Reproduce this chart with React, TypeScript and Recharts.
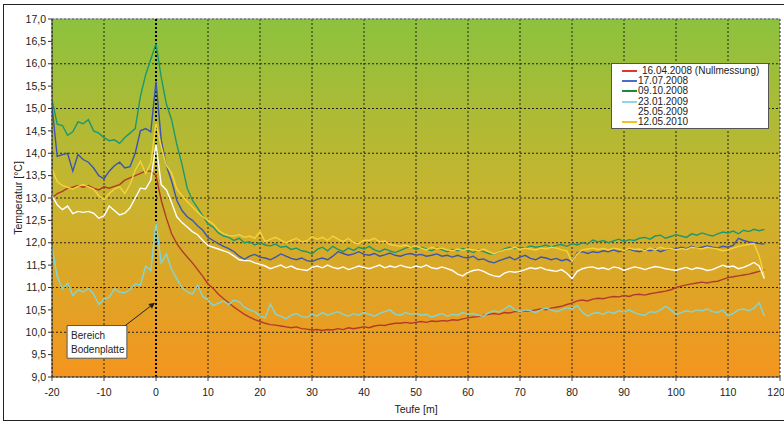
import React from "react";
import {
  LineChart,
  Line,
  XAxis,
  YAxis,
  CartesianGrid,
  ReferenceLine,
  ReferenceArea,
  Label,
} from "recharts";

// Depth positions (m), one per metre from -20 to 117
const depth: number[] = Array.from({ length: 138 }, (_, i) => i - 20);

const xTicks = [-20, -10, 0, 10, 20, 30, 40, 50, 60, 70, 80, 90, 100, 110, 120];
const yTicks = [9, 9.5, 10, 10.5, 11, 11.5, 12, 12.5, 13, 13.5, 14, 14.5, 15, 15.5, 16, 16.5, 17];

// 16.04.2008 (Nullmessung)
const t20080416 = [
  13.0, 13.1, 13.15, 13.22, 13.24, 13.28, 13.24, 13.28, 13.22, 13.18,
  13.25, 13.22, 13.26, 13.3, 13.4, 13.45, 13.5, 13.55, 13.6, 13.6,
  13.5, 12.95, 12.55, 12.2, 11.98, 11.82, 11.68, 11.55, 11.4, 11.25,
  11.08, 10.98, 10.85, 10.75, 10.66, 10.56, 10.48, 10.4, 10.34, 10.28,
  10.24, 10.2, 10.17, 10.16, 10.14, 10.12, 10.1, 10.12, 10.08, 10.07,
  10.05, 10.06, 10.04, 10.06, 10.05, 10.08, 10.06, 10.1, 10.08, 10.1,
  10.12, 10.1, 10.14, 10.16, 10.15, 10.18, 10.2, 10.2, 10.22, 10.2,
  10.22, 10.24, 10.22, 10.25, 10.24, 10.26, 10.25, 10.28, 10.27, 10.3,
  10.32, 10.34, 10.35, 10.38, 10.4, 10.42, 10.4, 10.44, 10.43, 10.46,
  10.46, 10.48, 10.47, 10.5, 10.52, 10.5, 10.54, 10.56, 10.58, 10.62,
  10.65, 10.7, 10.72, 10.7, 10.74, 10.76, 10.75, 10.78, 10.8, 10.79,
  10.82, 10.8, 10.84, 10.85, 10.83, 10.86, 10.88, 10.9, 10.92, 10.95,
  11.0, 11.03, 11.06, 11.08, 11.1, 11.12, 11.1, 11.13, 11.14, 11.18,
  11.22, 11.24, 11.26, 11.28, 11.3, 11.33, 11.36, 11.4,
];

// 17.07.2008
const t20080717 = [
  15.05, 13.93, 13.97, 14.0, 13.6, 13.97, 13.86, 13.8, 13.67, 13.5,
  13.43, 13.6, 13.72, 13.8, 13.67, 13.7, 14.0, 14.5, 14.55, 14.48,
  15.6, 14.3, 13.72, 13.38, 12.95, 12.72, 12.58, 12.5, 12.38, 12.28,
  12.12, 12.05, 11.98, 11.92, 11.87, 11.8, 11.7, 11.63, 11.7, 11.74,
  11.68, 11.66, 11.62, 11.68, 11.75, 11.7, 11.65, 11.62, 11.66, 11.6,
  11.58, 11.63, 11.66, 11.62, 11.7, 11.8, 11.76, 11.72, 11.75, 11.8,
  11.74, 11.72, 11.76, 11.7, 11.73, 11.77, 11.72, 11.7, 11.74, 11.76,
  11.72, 11.74, 11.7, 11.72, 11.75, 11.7, 11.72, 11.68, 11.72, 11.68,
  11.66, 11.7, 11.62, 11.64, 11.58, 11.55, 11.6, 11.64, 11.68, 11.62,
  11.68, 11.72, 11.65, 11.62, 11.68, 11.66, 11.62, 11.65, 11.6, 11.63,
  11.57, 11.78, 11.8, 11.76, 11.8, 11.78, 11.82, 11.8, 11.84, 11.8,
  11.83, 11.86, 11.82, 11.8, 11.84, 11.82, 11.86, 11.8, 11.84, 11.88,
  11.86, 11.9, 11.87, 11.92, 11.88, 11.9, 11.93, 11.9, 11.88, 11.92,
  11.9, 11.94, 12.1, 12.05, 12.02, 12.0, 11.98, 11.97,
];

// 09.10.2008
const t20081009 = [
  15.2, 14.65, 14.62, 14.4, 14.48, 14.7, 14.66, 14.75, 14.5, 14.45,
  14.35, 14.28, 14.3, 14.22, 14.35, 14.45, 14.55, 15.27, 15.75, 16.1,
  16.45, 15.7, 15.1, 14.75, 14.2, 13.75, 13.22, 12.95, 12.78, 12.6,
  12.42, 12.35, 12.22, 12.15, 12.12, 12.05, 12.1, 12.0, 12.02, 11.95,
  12.0, 11.95, 11.93, 11.97, 11.9, 11.92, 11.85, 11.88, 11.82, 11.8,
  11.75, 11.85, 11.9, 11.82, 11.92, 11.85, 11.8, 11.88, 11.83, 11.9,
  11.86, 11.92, 11.84, 11.8, 11.86, 11.82, 11.78, 11.83, 11.88, 11.92,
  11.85, 11.9, 11.86, 11.82, 11.88, 11.84, 11.8, 11.85, 11.82, 11.87,
  11.83, 11.78, 11.84, 11.8, 11.76, 11.74, 11.8, 11.86, 11.9, 11.87,
  11.9, 11.88, 11.93, 11.9, 11.92, 11.95, 11.9, 11.94, 11.96, 11.92,
  11.98, 11.95, 12.0, 11.97, 12.06, 12.02, 12.05, 12.0, 12.04, 12.08,
  12.03, 12.07, 12.05, 12.1, 12.12, 12.08, 12.15, 12.17, 12.1, 12.14,
  12.18, 12.15, 12.12, 12.2, 12.17, 12.22, 12.18, 12.15, 12.2, 12.24,
  12.22, 12.26, 12.2, 12.28, 12.25, 12.3, 12.27, 12.3,
];

// 23.01.2009
const t20090123 = [
  11.9, 11.25, 10.97, 11.1, 10.82, 10.95, 10.9, 10.98, 10.85, 10.62,
  10.74, 10.78, 10.97, 10.9, 10.88, 10.95, 11.08, 11.05, 11.48, 11.38,
  12.45, 11.55, 11.75, 11.4, 11.2, 11.0, 10.9, 10.85, 11.05, 10.8,
  10.72, 10.6, 10.65, 10.7, 10.62, 10.72, 10.68, 10.56, 10.5, 10.46,
  10.36, 10.32, 10.63, 10.4, 10.36, 10.3, 10.38, 10.42, 10.35, 10.33,
  10.4, 10.36, 10.44, 10.38, 10.42, 10.46, 10.4, 10.36, 10.42, 10.38,
  10.44, 10.4, 10.36, 10.42, 10.46, 10.5, 10.4, 10.38, 10.44, 10.4,
  10.42, 10.38, 10.4, 10.34, 10.38, 10.42, 10.36, 10.4, 10.38, 10.44,
  10.4, 10.42, 10.38, 10.36, 10.44, 10.48, 10.45, 10.52, 10.6, 10.5,
  10.46, 10.5, 10.48, 10.44, 10.5, 10.54, 10.5, 10.46, 10.5, 10.55,
  10.52, 10.6, 10.45, 10.36, 10.42, 10.44, 10.4, 10.46, 10.42, 10.48,
  10.45, 10.5, 10.44, 10.4, 10.38, 10.46, 10.44, 10.5, 10.58, 10.5,
  10.4, 10.44, 10.48, 10.45, 10.5, 10.48, 10.52, 10.46, 10.44, 10.5,
  10.36, 10.42, 10.5, 10.52, 10.48, 10.54, 10.66, 10.36,
];

// 25.05.2009
const t20090525 = [
  13.05, 12.85, 12.74, 12.82, 12.65, 12.7, 12.68, 12.7, 12.66, 12.55,
  12.6, 12.82, 12.72, 12.62, 12.66, 12.78, 13.0, 13.22, 13.2, 13.4,
  14.2, 13.3, 13.18, 12.9, 12.58, 12.45, 12.35, 12.25, 12.18, 12.05,
  11.94, 11.9, 11.86, 11.82, 11.78, 11.7, 11.62, 11.6, 11.6, 11.55,
  11.52, 11.48, 11.42, 11.46, 11.5, 11.44, 11.48, 11.42, 11.4, 11.38,
  11.45, 11.48, 11.44, 11.5, 11.45, 11.42, 11.46, 11.4, 11.44, 11.48,
  11.45, 11.42, 11.46, 11.5, 11.44, 11.48, 11.45, 11.5, 11.46, 11.44,
  11.48, 11.45, 11.5, 11.44, 11.42, 11.46, 11.42, 11.38, 11.3, 11.26,
  11.34, 11.38, 11.4, 11.36, 11.3, 11.26, 11.24, 11.32, 11.36, 11.34,
  11.36, 11.4, 11.44, 11.42, 11.45, 11.4, 11.38, 11.36, 11.4, 11.32,
  11.2, 11.36, 11.42, 11.45, 11.46, 11.42, 11.44, 11.4, 11.46, 11.44,
  11.38, 11.42, 11.46, 11.44, 11.4, 11.44, 11.47, 11.45, 11.42, 11.4,
  11.38, 11.42, 11.45, 11.4, 11.44, 11.42, 11.38, 11.4, 11.45, 11.5,
  11.46, 11.48, 11.42, 11.45, 11.5, 11.56, 11.48, 11.2,
];

// 12.05.2010
const t20100512 = [
  13.65, 13.37, 13.28, 13.24, 13.2, 13.26, 13.3, 13.25, 13.2, 13.05,
  12.96, 13.1, 13.2, 13.25, 13.1, 13.3, 13.62, 13.82, 13.55, 13.78,
  14.68, 14.15, 13.72, 13.56, 13.2, 13.05, 12.92, 12.8, 12.68, 12.58,
  12.5, 12.42, 12.28, 12.2, 12.16, 12.15, 12.18, 12.12, 12.15, 12.1,
  12.25, 12.02, 12.08, 12.12, 12.06, 12.0, 12.05, 12.1, 12.02, 12.04,
  12.14, 12.08, 12.12, 12.05, 12.15, 12.08, 12.02, 12.1, 12.0, 11.98,
  12.06, 12.05, 12.1, 12.02, 12.04, 11.96, 11.94, 11.92, 11.95, 11.9,
  11.93, 11.88, 11.84, 11.9, 11.86, 11.88, 11.84, 11.82, 11.86, 11.83,
  11.86, 11.84, 11.82, 11.86, 11.8, 11.75, 11.8, 11.84, 11.86, 11.9,
  11.85, 11.88, 11.86, 11.84, 11.88, 11.86, 11.9, 11.88, 11.84, 11.82,
  11.58, 11.75, 11.84, 11.86, 11.88, 11.85, 11.87, 11.84, 11.88, 11.86,
  11.82, 11.88, 11.85, 11.86, 11.82, 11.88, 11.84, 11.9, 11.86, 11.88,
  11.84, 11.87, 11.85, 11.9, 11.88, 11.86, 11.9, 11.88, 11.86, 11.82,
  11.84, 11.88, 11.92, 11.94, 11.96, 11.98, 11.7, 11.25,
];

const seriesLabels = [
  "16.04.2008 (Nullmessung)",
  "17.07.2008",
  "09.10.2008",
  "23.01.2009",
  "25.05.2009",
  "12.05.2010",
];
const seriesKeys = ["s0", "s1", "s2", "s3", "s4", "s5"];
const seriesValues = [t20080416, t20080717, t20081009, t20090123, t20090525, t20100512];
const lineColors = ["#b23a2c", "#3b55b0", "#1c9870", "#80d6d6", "#ffffff", "#f6d23c"];
const legendColors = ["#e8332b", "#4a6cc8", "#1a8a3c", "#8ad8e0", "#ffffff", "#f5c21c"];

const data = depth.map((d, i) => {
  const row: Record<string, number> = { depth: d };
  seriesKeys.forEach((k, j) => {
    row[k] = seriesValues[j][i];
  });
  return row;
});

const FONT = "'Liberation Sans', Arial, sans-serif";
const NARROW = "'Liberation Sans Narrow', 'Arial Narrow', 'Liberation Sans', Arial, sans-serif";

const fmt = (v: number) => v.toFixed(1).replace(".", ",");

const BoxLabel = (props: any) => {
  const vb = props.viewBox || {};
  return (
    <g>
      <text x={vb.x + 4} y={vb.y + 13} fontSize={10} fontFamily={FONT} fill="#222">
        Bereich
      </text>
      <text x={vb.x + 4} y={vb.y + 27} fontSize={10} fontFamily={FONT} fill="#222">
        Bodenplatte
      </text>
    </g>
  );
};

const ArrowShape = (props: any) => {
  const { x1, y1, x2, y2 } = props;
  const ang = Math.atan2(y2 - y1, x2 - x1);
  const L = 6;
  const W = 3;
  const bx = x2 - L * Math.cos(ang);
  const by = y2 - L * Math.sin(ang);
  const px = -Math.sin(ang) * W;
  const py = Math.cos(ang) * W;
  return (
    <g>
      <line x1={x1} y1={y1} x2={bx} y2={by} stroke="#222" strokeWidth={1} />
      <polygon
        points={`${x2},${y2} ${bx + px},${by + py} ${bx - px},${by - py}`}
        fill="#222"
      />
    </g>
  );
};

const YTitle = (props: any) => {
  const vb = props.viewBox || {};
  const cy = vb.y + vb.height / 2;
  return (
    <text
      x={18}
      y={cy}
      transform={`rotate(-90, 18, ${cy})`}
      textAnchor="middle"
      dominantBaseline="central"
      fontSize={10.5}
      fontFamily={FONT}
      fill="#222"
    >
      Temperatur [°C]
    </text>
  );
};

export default function App() {
  return (
    <div
      style={{
        position: "absolute",
        left: 0,
        top: 0,
        width: 784,
        height: 424,
        background: "#ffffff",
        overflow: "hidden",
      }}
    >
      <div
        style={{
          position: "absolute",
          left: 3,
          top: 4,
          width: 800,
          height: 415,
          border: "1.5px solid #222",
        }}
      />
      <div style={{ position: "absolute", left: 0, top: 0 }}>
        <LineChart
          width={784}
          height={424}
          data={data}
          margin={{ top: 19, right: 4, bottom: 7, left: 12 }}
        >
          <defs>
            <linearGradient id="bgGrad" x1="0" y1="0" x2="0" y2="1">
              <stop offset="0%" stopColor="#8cc23e" />
              <stop offset="50%" stopColor="#c9b42e" />
              <stop offset="100%" stopColor="#f4951e" />
            </linearGradient>
          </defs>
          <CartesianGrid
            fill="url(#bgGrad)"
            fillOpacity={1}
            stroke="#222"
            strokeDasharray="2 2"
          />
          <XAxis
            dataKey="depth"
            type="number"
            domain={[-20, 120]}
            ticks={xTicks}
            allowDataOverflow
            height={40}
            tickSize={4}
            tickMargin={8}
            stroke="#444"
            tick={{ fontSize: 10.5, fontFamily: NARROW, fill: "#222" }}
          >
            <Label
              value="Teufe [m]"
              position="insideBottom"
              offset={4}
              style={{ fontSize: 10.5, fontFamily: NARROW, fill: "#222" }}
            />
          </XAxis>
          <YAxis
            type="number"
            domain={[9, 17]}
            ticks={yTicks}
            allowDataOverflow
            width={40}
            tickSize={4}
            tickMargin={2}
            stroke="#333"
            tickFormatter={fmt}
            tick={{ fontSize: 10.5, fontFamily: FONT, fill: "#222" }}
          >
            <Label content={YTitle} />
          </YAxis>
          <ReferenceLine y={17} stroke="#9a9a9a" strokeWidth={1} />
          <ReferenceLine x={0} stroke="#000" strokeDasharray="2 2" strokeWidth={2} />
          <ReferenceArea
            x1={-17.1}
            x2={-5.6}
            y1={9.42}
            y2={10.15}
            fill="#ffffff"
            fillOpacity={1}
            stroke="#555"
            strokeWidth={1}
            label={(p: any) => <BoxLabel {...p} />}
          />
          <ReferenceLine
            segment={[
              { x: -5.9, y: 10.15 },
              { x: -0.2, y: 10.66 },
            ]}
            shape={(p: any) => <ArrowShape {...p} />}
          />
          {seriesKeys.map((k, j) => (
            <Line
              key={k}
              type="linear"
              dataKey={k}
              stroke={lineColors[j]}
              strokeWidth={1.4}
              dot={false}
              isAnimationActive={false}
            />
          ))}
        </LineChart>
      </div>
      <div
        style={{
          position: "absolute",
          left: 611,
          top: 63,
          width: 158,
          height: 66,
          background: "#ffffff",
          border: "1px solid #555",
          fontFamily: FONT,
          fontSize: 10,
          color: "#222",
          boxSizing: "border-box",
          paddingTop: 2,
        }}
      >
        {seriesLabels.map((lab, j) => (
          <div
            key={lab}
            style={{
              display: "flex",
              alignItems: "center",
              height: 10.2,
              lineHeight: "10px",
              whiteSpace: "nowrap",
            }}
          >
            <div
              style={{
                marginLeft: 10,
                width: 15,
                height: 2,
                flexShrink: 0,
                background: legendColors[j],
                marginRight: j === 0 ? 5 : 1,
              }}
            />
            <span>{lab}</span>
          </div>
        ))}
      </div>
    </div>
  );
}
